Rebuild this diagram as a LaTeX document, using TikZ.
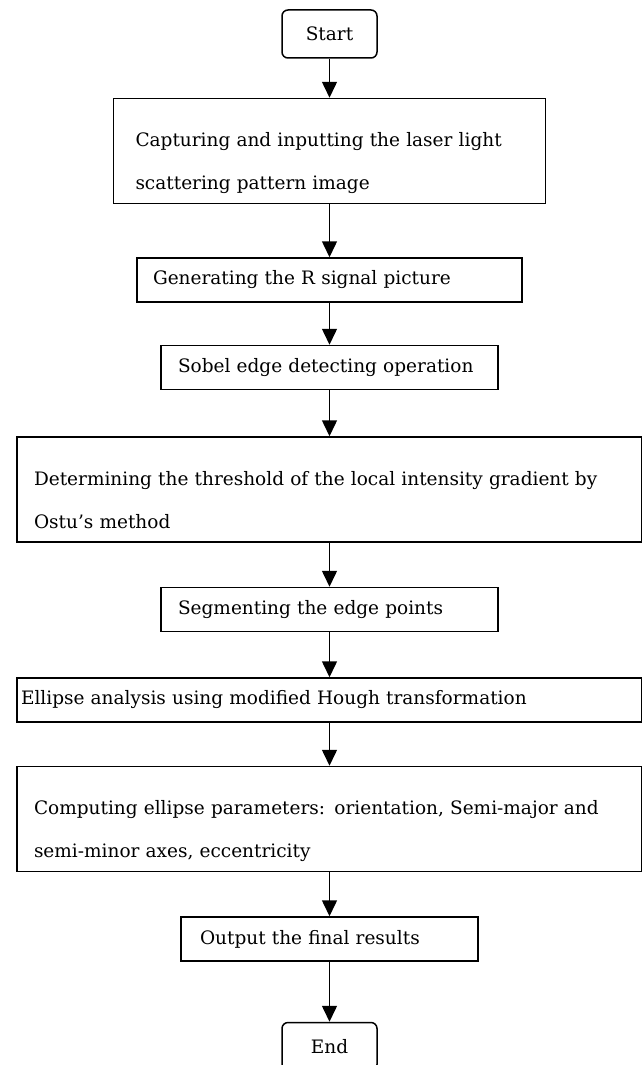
\documentclass[tikz,border=0pt]{standalone}
\usepackage{fontspec}
\setmainfont{DejaVu Serif}
\usetikzlibrary{positioning,arrows.meta}
\tikzset{flow box/.style={
        draw, line width=1.5pt, align=left, inner ysep=0pt,
        font=\fontsize{18.5}{43}\selectfont
    },
    one line/.style={minimum height=44pt},
    terminal/.style={
        draw, line width=1.5pt, rounded corners=6pt, inner sep=0pt,
        minimum width=95pt, minimum height=48pt,
        font=\fontsize{18.5}{43}\selectfont
    },
    flow arrow/.style={-{Triangle[length=16pt,width=15pt]}, line width=1.5pt}
}
\newcommand{\uppad}{\rule{0pt}{48pt}}
\newcommand{\lowpad}{\rule[-14pt]{0pt}{14pt}}

\begin{document}
\begin{tikzpicture}
    \useasboundingbox (0,0) rectangle (642pt,-1065pt);
    \node[terminal] (start) at (329.5pt,-34pt) {Start};
    \node[flow box, text width=388pt, inner xsep=22pt, below=39pt of start] (capture)
        {\uppad Capturing and inputting the laser light\\ scattering pattern image\lowpad};
    \node[flow box, one line, text width=353pt, inner xsep=16pt, below=53pt of capture] (rsignal)
        {\mbox{Generating the R signal picture}};
    \node[flow box, one line, text width=303pt, inner xsep=17pt, below=42pt of rsignal] (sobel)
        {\mbox{Sobel edge detecting operation}};
    \node[flow box, text width=591pt, inner xsep=17pt, below=46pt of sobel] (threshold)
        {\uppad Determining the threshold of the local intensity gradient by\\ Ostu's method\lowpad};
    \node[flow box, one line, text width=303pt, inner xsep=17pt, below=44pt of threshold] (segment)
        {\mbox{Segmenting the edge points}};
    \node[flow box, one line, text width=617pt, inner xsep=4pt, below=45pt of segment] (hough)
        {\mbox{Ellipse analysis using modified Hough transformation}};
    \node[flow box, text width=591pt, inner xsep=17pt, below=43pt of hough] (params)
        {\uppad Computing ellipse parameters: orientation, Semi-major and\\ semi-minor axes, eccentricity\lowpad};
    \node[flow box, one line, text width=259pt, inner xsep=19pt, below=44pt of params] (output)
        {\mbox{Output the final results}};
    \node[terminal, below=60pt of output] (stop) {End};
    % Arrows
    \foreach \a/\b in {start/capture, capture/rsignal, rsignal/sobel, sobel/threshold,
        threshold/segment, segment/hough, hough/params, params/output, output/stop}
        \draw[flow arrow] (\a) -- (\b);
\end{tikzpicture}
\end{document}
